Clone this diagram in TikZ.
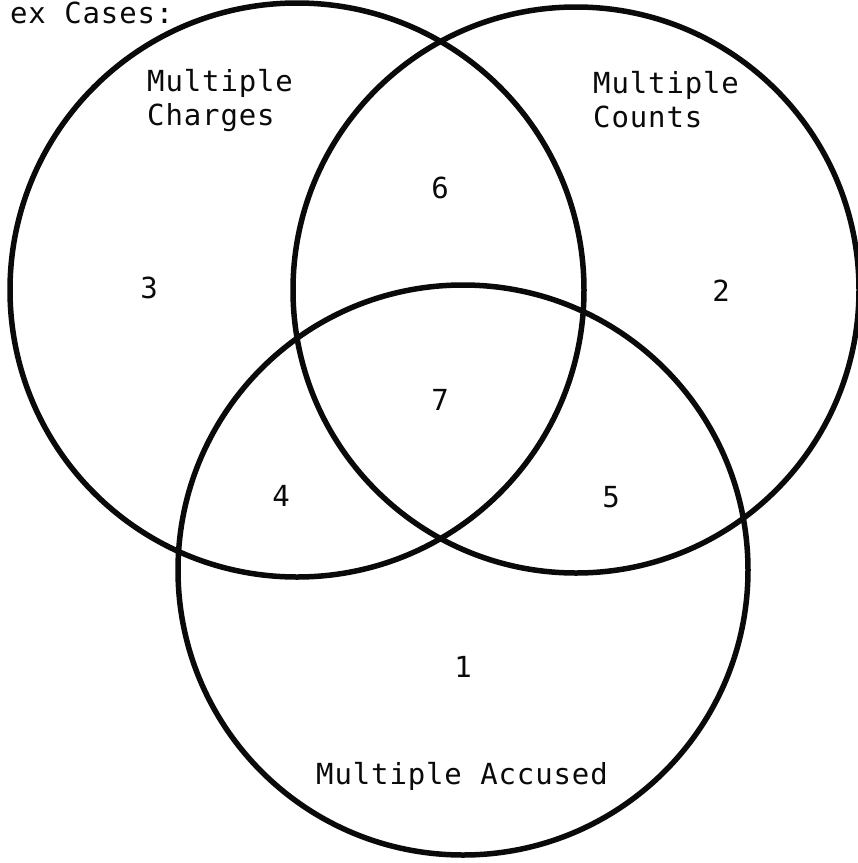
\documentclass[tikz,border=0pt]{standalone}
\usepackage{fontspec}
\setmonofont[LetterSpace=3]{DejaVu Sans Mono}
\usepackage{tikz}
\usetikzlibrary{positioning}
\definecolor{myink}{RGB}{10,10,10}
\tikzset{
  ring/.style={circle, draw=myink, line width=5.5pt, inner sep=0pt},
  lbl/.style={font=\ttfamily\fontsize{29}{34}\selectfont, text=myink,
    inner sep=0pt, align=left, anchor=base west},
  num/.style={font=\ttfamily\fontsize{29}{34}\selectfont, text=myink,
    inner sep=0pt}
}
\begin{document}
\begin{tikzpicture}[x=1pt,y=-1pt]
  \useasboundingbox (0,0) rectangle (858,863);
  % ── Circles ──
  \node[ring, minimum size=574pt] (charges) at (297,290) {};
  \node[ring, minimum size=566pt] (counts) at (576,290) {};
  \node[ring, minimum size=570pt] (accused) at (463,570) {};
  % ── Labels ──
  \node[lbl] (title) at (10,23) {ex Cases:};
  \node[lbl] (lcharges) at (147,125) {Multiple\\Charges};
  \node[lbl] (lcounts) at (593,127) {Multiple\\Counts};
  \node[lbl] (laccused) at (316,784) {Multiple Accused};
  % ── Region counts ──
  \node[num] (n1) at (463,667) {1};
  \node[num] (n2) at (721,291) {2};
  \node[num] (n3) at (149,288) {3};
  \node[num] (n4) at (281,496) {4};
  \node[num] (n5) at (611,497) {5};
  \node[num] (n6) at (440,188) {6};
  \node[num] (n7) at (440,400) {7};
\end{tikzpicture}
\end{document}
